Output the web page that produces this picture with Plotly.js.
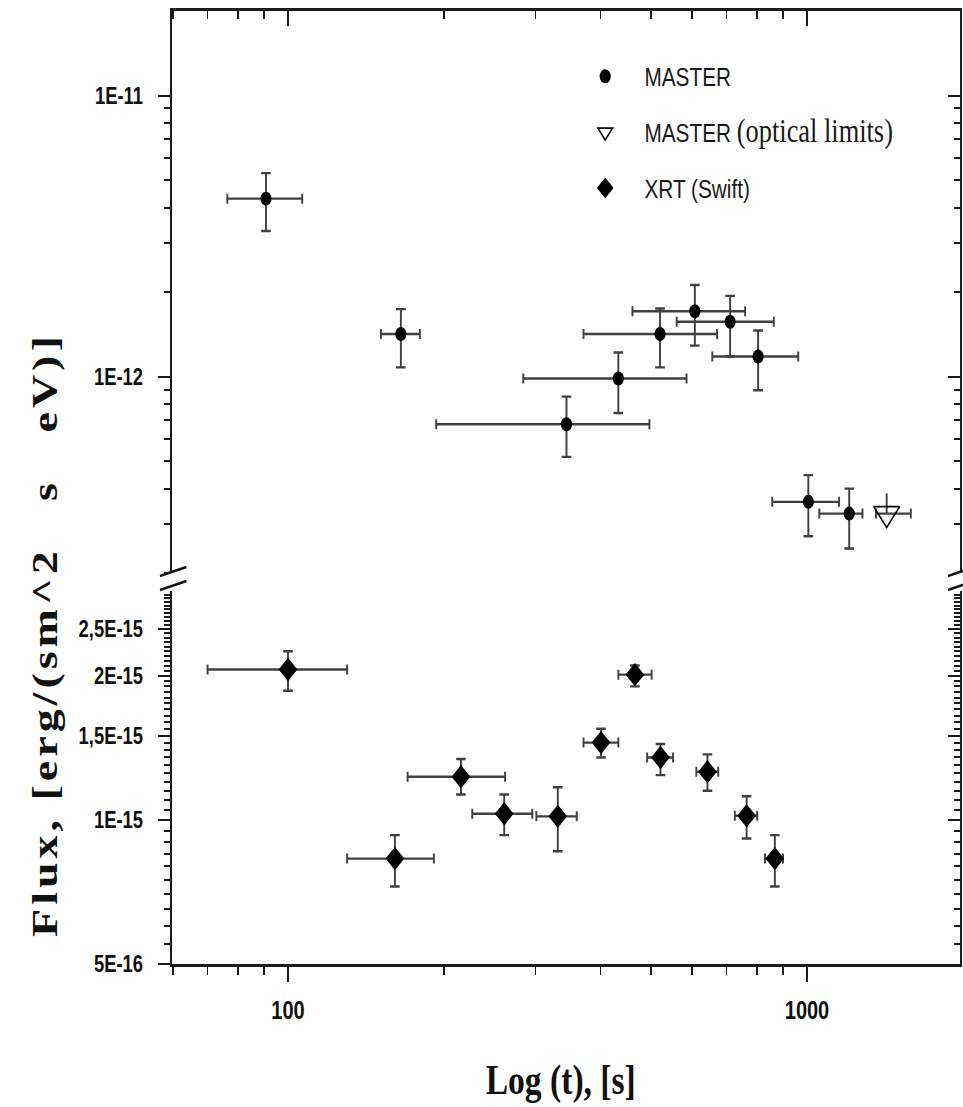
<!DOCTYPE html>
<html>
<head>
<meta charset="utf-8">
<script src="https://cdn.plot.ly/plotly-3.0.1.min.js"></script>
<style>
html,body{margin:0;padding:0;background:#fff;}
#wrap{width:963px;height:1107px;overflow:hidden;position:relative;}
#chart{width:1204px;height:1107px;transform:scaleX(0.8);transform-origin:0 0;}
</style>
</head>
<body>
<div id="wrap"><div id="chart"></div></div>
<script>
// ---- MASTER optical points ----
const masterTime   = [90.7, 165, 344, 433, 521, 608, 711, 805, 1006, 1206];
const masterFlux   = [4.3e-12, 1.42e-12, 6.78e-13, 9.86e-13, 1.42e-12, 1.71e-12, 1.57e-12, 1.18e-12, 3.59e-13, 3.26e-13];
const masterTimeLo = [76.4, 151, 193, 284, 371, 461, 561, 657, 857, 1056];
const masterTimeHi = [106.5, 179.5, 497, 586, 671, 760, 863, 962, 1153, 1279];
const masterFluxLo = [3.3e-12, 1.08e-12, 5.19e-13, 7.43e-13, 1.08e-12, 1.29e-12, 1.18e-12, 8.95e-13, 2.71e-13, 2.45e-13];
const masterFluxHi = [5.3e-12, 1.74e-12, 8.5e-13, 1.22e-12, 1.75e-12, 2.12e-12, 1.94e-12, 1.46e-12, 4.47e-13, 4.0e-13];

// ---- MASTER optical limits ----
const limitTime   = [1424];
const limitFlux   = [3.26e-13];
const limitTimeLo = [1358];
const limitTimeHi = [1585];
const limitFluxHi = [3.85e-13];

// ---- XRT (Swift) points ----
const xrtTime   = [100, 160.7, 215.4, 261, 331, 401, 466, 522, 643, 765, 867];
const xrtFlux   = [2.06e-15, 8.3e-16, 1.23e-15, 1.03e-15, 1.017e-15, 1.45e-15, 2.01e-15, 1.35e-15, 1.26e-15, 1.02e-15, 8.3e-16];
const xrtTimeLo = [70, 130, 170, 226.5, 301, 371, 433, 492, 612, 726, 830];
const xrtTimeHi = [130, 191, 262, 295.6, 360, 433, 502, 552, 674.5, 802, 899];
const xrtFluxLo = [1.86e-15, 7.26e-16, 1.13e-15, 9.29e-16, 8.6e-16, 1.35e-15, 1.90e-15, 1.24e-15, 1.15e-15, 9.14e-16, 7.26e-16];
const xrtFluxHi = [2.25e-15, 9.29e-16, 1.34e-15, 1.13e-15, 1.17e-15, 1.55e-15, 2.10e-15, 1.44e-15, 1.37e-15, 1.12e-15, 9.29e-16];

// ---- tick labels ----
const xTickVals = [100, 1000];
const xTickText = ['100', '1000'];
const yTopTickVals = [1e-12, 1e-11];
const yTopTickText = ['1E-12', '1E-11'];
const yBotTickVals = [5e-16, 1e-15, 1.5e-15, 2e-15, 2.5e-15];
const yBotTickText = ['5E-16', '1E-15', '1,5E-15', '2E-15', '2,5E-15'];
const legendNames = ['MASTER', 'MASTER (optical limits)', 'XRT (Swift)'];

// minor tick positions
const xMinor = [];
[10, 100].forEach(d => { for (let k = 2; k <= 9; k++) { const v = k * d; if (v >= 60) xMinor.push(v); } });
const yTopMinor = [];
[1e-13, 1e-12].forEach(d => { for (let k = 2; k <= 9; k++) yTopMinor.push(k * d); });
const yBotMinor = [];
for (let k = 10; k <= 60; k++) { const v = k * 5e-17; if (k % 10 !== 0) yBotMinor.push(v); }

const diff = (a, b) => a.map((v, i) => v - b[i]);
const errCol = '#404040';

const tickFont = {family: "'Liberation Sans', Arial, sans-serif", size: 23, color: '#111', weight: 700};
const legFont = {family: "'Liberation Sans', Arial, sans-serif", size: 26, color: '#1a1a1a'};

const traces = [
  {
    name: legendNames[0], legendgroup: 'g1',
    x: masterTime, y: masterFlux, xaxis: 'x', yaxis: 'y2',
    type: 'scatter', mode: 'markers',
    marker: {symbol: 'circle', size: 14, color: '#000'},
    error_x: {type: 'data', symmetric: false, array: diff(masterTimeHi, masterTime), arrayminus: diff(masterTime, masterTimeLo), color: errCol, thickness: 2.4, width: 5},
    error_y: {type: 'data', symmetric: false, array: diff(masterFluxHi, masterFlux), arrayminus: diff(masterFlux, masterFluxLo), color: errCol, thickness: 2.4, width: 6}
  },
  {
    name: 'MASTER <span style="font-family:\'Liberation Serif\',serif;font-size:33px">(optical limits)</span>', legendgroup: 'g2',
    x: limitTime, y: limitFlux, xaxis: 'x', yaxis: 'y2',
    type: 'scatter', mode: 'markers',
    marker: {symbol: 'triangle-down-open', size: 28, color: '#000', line: {width: 1.8, color: '#000'}},
    error_x: {type: 'data', symmetric: false, array: diff(limitTimeHi, limitTime), arrayminus: diff(limitTime, limitTimeLo), color: errCol, thickness: 2.4, width: 5},
    error_y: {type: 'data', symmetric: false, array: diff(limitFluxHi, limitFlux), arrayminus: [0], color: errCol, thickness: 2.4, width: 0}
  },
  {
    name: legendNames[2], legendgroup: 'g3',
    x: xrtTime, y: xrtFlux, xaxis: 'x', yaxis: 'y',
    type: 'scatter', mode: 'markers',
    marker: {symbol: 'diamond', size: 18, color: '#000'},
    error_x: {type: 'data', symmetric: false, array: diff(xrtTimeHi, xrtTime), arrayminus: diff(xrtTime, xrtTimeLo), color: errCol, thickness: 2.4, width: 5},
    error_y: {type: 'data', symmetric: false, array: diff(xrtFluxHi, xrtFlux), arrayminus: diff(xrtFlux, xrtFluxLo), color: errCol, thickness: 2.4, width: 6}
  },
  // empty helper traces so that the frame axes (top, right) are drawn
  {x: [], y: [], xaxis: 'x2', yaxis: 'y4', type: 'scatter', mode: 'markers', showlegend: false, hoverinfo: 'skip'},
  {x: [], y: [], xaxis: 'x', yaxis: 'y3', type: 'scatter', mode: 'markers', showlegend: false, hoverinfo: 'skip'}
];

const xRange = [1.7765, 3.2948];
const yTopRange = [Math.log10(2e-13), Math.log10(2e-11)];
const yBotRange = [Math.log10(5e-16), Math.log10(3e-15)];
const lineCol = '#1a1a1a';

function yAx(domain, range, tv, tt, minorVals, extra) {
  const base = {
    domain: domain, type: 'log', range: range, autorange: false,
    showline: true, linecolor: lineCol, linewidth: 2.6,
    showgrid: false, zeroline: false,
    ticks: 'outside', ticklen: 15, tickwidth: 2, tickcolor: lineCol,
    tickmode: 'array', tickvals: tv, ticktext: tt,
    tickfont: tickFont, ticklabelstandoff: 14,
    minor: {tickmode: 'array', tickvals: minorVals, ticks: 'outside', ticklen: 8, tickwidth: 2, tickcolor: lineCol, showgrid: false},
    fixedrange: true
  };
  const out = Object.assign(base, extra || {});
  if (extra && extra.ticks) out.minor = Object.assign({}, base.minor, {ticks: extra.ticks});
  return out;
}

// break marks (paper coords computed from pixel layout)
const L = 215, PW = 985, B = 964, PH = 953;
const px = X => (X - L) / PW;
const py = Y => (B - Y) / PH;
const brk = [];
[[200, 233], [1185, 1218]].forEach(([a, b]) => {
  brk.push({type: 'line', xref: 'paper', yref: 'paper', x0: px(a), y0: py(576), x1: px(b), y1: py(567), line: {color: '#111', width: 2.6}});
  brk.push({type: 'line', xref: 'paper', yref: 'paper', x0: px(a), y0: py(590), x1: px(b), y1: py(581), line: {color: '#111', width: 2.6}});
});

const layout = {
  width: 1204, height: 1107,
  margin: {l: 215, r: 4, t: 11, b: 143},
  paper_bgcolor: '#fff', plot_bgcolor: 'rgba(0,0,0,0)',
  showlegend: true,
  legend: {
    x: 0.5, xanchor: 'left', y: 0.956, yanchor: 'top',
    font: legFont, bgcolor: 'rgba(0,0,0,0)', borderwidth: 0,
    traceorder: 'grouped', tracegroupgap: 19, itemwidth: 88, itemsizing: 'trace'
  },
  xaxis: {
    domain: [0, 1], anchor: 'y', type: 'log', range: xRange, autorange: false,
    showline: true, linecolor: lineCol, linewidth: 2.6, showgrid: false, zeroline: false,
    ticks: 'outside', ticklen: 15, tickwidth: 2, tickcolor: lineCol,
    tickmode: 'array', tickvals: xTickVals, ticktext: xTickText,
    tickfont: {family: "'Liberation Sans', Arial, sans-serif", size: 25, color: '#111', weight: 700}, ticklabelstandoff: 7,
    minor: {tickmode: 'array', tickvals: xMinor, ticks: 'outside', ticklen: 8, tickwidth: 2, tickcolor: lineCol, showgrid: false},
    fixedrange: true
  },
  xaxis2: {
    overlaying: 'x', anchor: 'y2', side: 'top', type: 'log', range: xRange, autorange: false,
    showline: true, linecolor: lineCol, linewidth: 2.6, showgrid: false, zeroline: false,
    ticks: 'inside', ticklen: 15, tickwidth: 2, tickcolor: lineCol,
    tickmode: 'array', tickvals: xTickVals, showticklabels: false,
    minor: {tickmode: 'array', tickvals: xMinor, ticks: 'inside', ticklen: 8, tickwidth: 2, tickcolor: lineCol, showgrid: false},
    fixedrange: true
  },
  yaxis: yAx([0, 0.391], yBotRange, yBotTickVals, yBotTickText, yBotMinor, {anchor: 'x'}),
  yaxis2: yAx([0.41, 1], yTopRange, yTopTickVals, yTopTickText, yTopMinor, {anchor: 'x'}),
  yaxis3: yAx([0, 0.391], yBotRange, yBotTickVals, yBotTickText, yBotMinor, {anchor: 'x', overlaying: 'y', side: 'right', ticks: 'inside', showticklabels: false}),
  yaxis4: yAx([0.41, 1], yTopRange, yTopTickVals, yTopTickText, yTopMinor, {anchor: 'x', overlaying: 'y2', side: 'right', ticks: 'inside', showticklabels: false}),
  shapes: brk,
  annotations: [
    {xref: 'paper', yref: 'paper', x: px(701), y: py(1080), xanchor: 'center', yanchor: 'middle', showarrow: false,
     text: 'Log (t), [s]', font: {family: "'Liberation Serif', 'Times New Roman', serif", size: 42, color: '#111', weight: 700}},
    {xref: 'paper', yref: 'paper', x: px(55), y: py(635), xanchor: 'center', yanchor: 'middle', showarrow: false, textangle: -90,
     text: '<span style="letter-spacing:4px">Flux, [erg/(sm^2   s   eV)]</span>', font: {family: "'Liberation Serif', 'Times New Roman', serif", size: 46, color: '#111', weight: 700}}
  ]
};

Plotly.newPlot('chart', traces, layout, {displayModeBar: false, staticPlot: true});
</script>
</body>
</html>
